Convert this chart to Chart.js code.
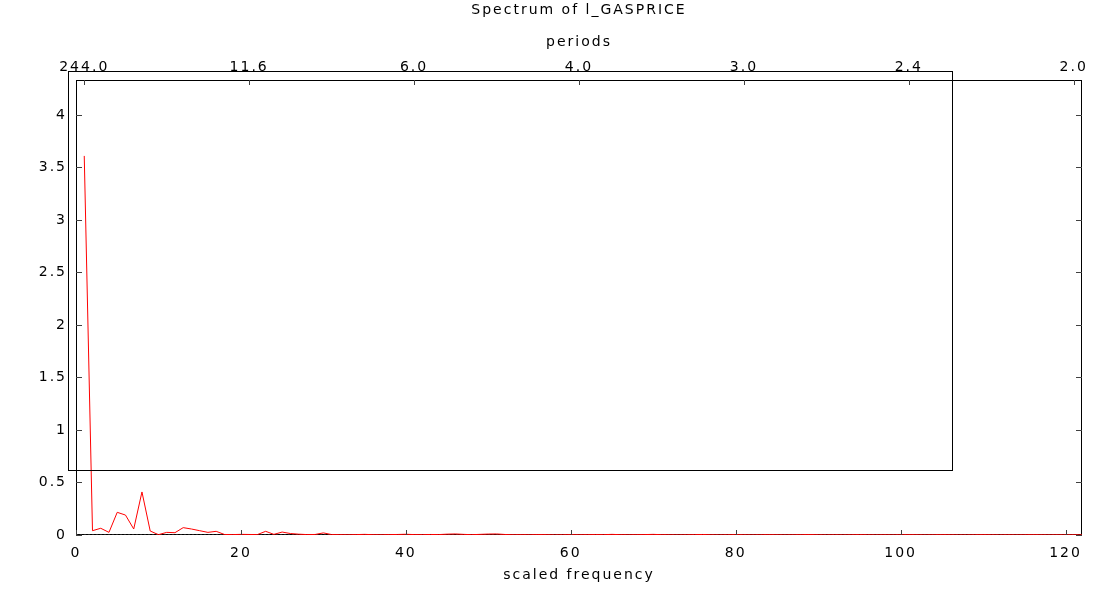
<!DOCTYPE html>
<html>
<head>
<meta charset="utf-8">
<title>Spectrum of l_GASPRICE</title>
<script src="https://cdn.jsdelivr.net/npm/chart.js@4.4.0/dist/chart.umd.min.js"></script>
<style>
  html, body { margin: 0; padding: 0; background: #fff; }
  #wrap { width: 1105px; height: 600px; }
</style>
</head>
<body>
<div id="wrap"><canvas id="spectrum" width="1105" height="600"></canvas></div>
<script>
// Periodogram of l_GASPRICE, 244 observations
const frequency = [
  1, 2, 3, 4, 5, 6, 7, 8, 9, 10, 11, 12, 13, 14, 15, 16, 17, 18, 19, 20,
  21, 22, 23, 24, 25, 26, 27, 28, 29, 30, 31, 32, 33, 34, 35, 36, 37, 38, 39, 40,
  41, 42, 43, 44, 45, 46, 47, 48, 49, 50, 51, 52, 53, 54, 55, 56, 57, 58, 59, 60,
  61, 62, 63, 64, 65, 66, 67, 68, 69, 70, 71, 72, 73, 74, 75, 76, 77, 78, 79, 80,
  81, 82, 83, 84, 85, 86, 87, 88, 89, 90, 91, 92, 93, 94, 95, 96, 97, 98, 99, 100,
  101, 102, 103, 104, 105, 106, 107, 108, 109, 110, 111, 112, 113, 114, 115, 116, 117, 118, 119, 120,
  121, 122
];

const density = [
  3.61, 0.041, 0.064, 0.025, 0.216, 0.19, 0.057, 0.41, 0.038, 0.003,
  0.025, 0.022, 0.07, 0.057, 0.041, 0.025, 0.035, 0.005, 0.004, 0.006,
  0.005, 0.004, 0.035, 0.006, 0.028, 0.014, 0.008, 0.004, 0.005, 0.02,
  0.004, 0.003, 0.002, 0.004, 0.006, 0.003, 0.002, 0.004, 0.005, 0.007,
  0.004, 0.003, 0.005, 0.004, 0.008, 0.010, 0.006, 0.003, 0.006, 0.009,
  0.010, 0.005, 0.002, 0.003, 0.002, 0.004, 0.003, 0.001, 0.002, 0.003,
  0.002, 0.003, 0.004, 0.003, 0.006, 0.003, 0.002, 0.003, 0.004, 0.006,
  0.003, 0.002, 0.001, 0.002, 0.003, 0.005, 0.002, 0.001, 0.002, 0.003,
  0.002, 0.001, 0.002, 0.003, 0.002, 0.001, 0.002, 0.003, 0.004, 0.002,
  0.001, 0.002, 0.001, 0.002, 0.003, 0.002, 0.001, 0.002, 0.001, 0.002,
  0.003, 0.002, 0.001, 0.002, 0.003, 0.002, 0.001, 0.001, 0.002, 0.003,
  0.002, 0.001, 0.002, 0.001, 0.002, 0.003, 0.002, 0.001, 0.002, 0.001,
  0.002, 0.001
];

// axis ticks
const freqTicks = [0, 20, 40, 60, 80, 100, 120];
const densityTicks = [0, 0.5, 1, 1.5, 2, 2.5, 3, 3.5, 4];
const periodTicks = [1, 21, 41, 61, 81, 101, 121];
const periodLabels = ['244.0', '11.6', '6.0', '4.0', '3.0', '2.4', '2.0'];

const FONT = { family: "'DejaVu Sans', Verdana, sans-serif", size: 14 };
const TEXT = '#000';

const spectrumPoints = frequency.map((f, i) => ({ x: f, y: density[i] }));
const zeroLine = [{ x: 0, y: 0 }, { x: 122, y: 0 }];

function setTicks(values) {
  return scale => { scale.ticks = values.map(v => ({ value: v })); };
}

// wide gnuplot-style lettering
const spacing = {
  id: 'spacing',
  beforeUpdate(chart) { chart.ctx.letterSpacing = '2px'; },
  beforeDraw(chart) { chart.ctx.letterSpacing = '2px'; }
};

// frame, inward tick marks and the empty key box
const frame = {
  id: 'frame',
  beforeDatasetsDraw(chart) {
    const { ctx, chartArea: a } = chart;
    ctx.save();
    ctx.strokeStyle = '#000';
    ctx.lineWidth = 1;
    ctx.strokeRect(Math.round(a.left) + 0.5, Math.round(a.top) + 0.5,
      Math.round(a.right - a.left) - 1, Math.round(a.bottom - a.top) - 1);
    ctx.restore();
  },
  afterDatasetsDraw(chart) {
    const { ctx, chartArea: a, scales } = chart;
    ctx.save();
    ctx.lineWidth = 1;

    ctx.strokeStyle = '#404040';
    ctx.beginPath();
    freqTicks.forEach(v => {
      const px = Math.round(scales.x.getPixelForValue(v)) + 0.5;
      ctx.moveTo(px, a.bottom); ctx.lineTo(px, a.bottom - 5);
    });
    periodTicks.forEach(v => {
      const px = Math.round(scales.x.getPixelForValue(v)) + 0.5;
      ctx.moveTo(px, a.top); ctx.lineTo(px, a.top + 5);
    });
    densityTicks.forEach(v => {
      const py = Math.round(scales.y.getPixelForValue(v)) + 0.5;
      ctx.moveTo(a.left, py); ctx.lineTo(a.left + 6, py);
      ctx.moveTo(a.right, py); ctx.lineTo(a.right - 6, py);
    });
    ctx.stroke();

    ctx.strokeStyle = '#000';
    ctx.strokeRect(Math.round(a.left) - 7.5, Math.round(a.top) - 8.5, 884, 399);
    ctx.restore();
  }
};

new Chart(document.getElementById('spectrum'), {
  type: 'line',
  data: {
    datasets: [
      {
        label: 'l_GASPRICE',
        data: spectrumPoints,
        borderColor: '#ff0000',
        borderWidth: 1,
        pointRadius: 0,
        tension: 0,
        order: 0
      },
      {
        label: 'zero',
        data: zeroLine,
        borderColor: '#444',
        borderWidth: 1,
        borderDash: [2, 2],
        pointRadius: 0,
        order: 1
      }
    ]
  },
  options: {
    responsive: false,
    animation: false,
    layout: { padding: { left: 0, right: 23, top: 0, bottom: 0 } },
    plugins: {
      legend: { display: false },
      tooltip: { enabled: false },
      title: {
        display: true,
        text: 'Spectrum of l_GASPRICE',
        fullSize: false,
        color: TEXT,
        font: { ...FONT, weight: 'normal' },
        padding: { top: 2, bottom: 4 }
      }
    },
    scales: {
      x: {
        type: 'linear',
        position: 'bottom',
        min: 0,
        max: 122,
        afterBuildTicks: setTicks(freqTicks),
        afterFit: s => { s.height = 65; },
        grid: { display: false, drawTicks: false },
        border: { display: false },
        ticks: { color: TEXT, font: FONT, padding: 10, maxRotation: 0, callback: v => String(v) },
        title: { display: true, text: 'scaled frequency', color: TEXT, font: FONT, padding: { top: 4, bottom: 16 } }
      },
      x2: {
        type: 'linear',
        position: 'top',
        min: 0,
        max: 122,
        afterBuildTicks: setTicks(periodTicks),
        afterFit: s => { s.height = 57.2; },
        grid: { display: false, drawTicks: false },
        border: { display: false },
        ticks: {
          color: TEXT, font: FONT, padding: 4, maxRotation: 0, autoSkip: false,
          callback: v => periodLabels[periodTicks.indexOf(v)]
        },
        title: { display: true, text: 'periods', color: TEXT, font: FONT, padding: { top: 11, bottom: 4 } }
      },
      y: {
        type: 'linear',
        position: 'left',
        min: 0,
        max: 4.333,
        afterBuildTicks: setTicks(densityTicks),
        afterFit: s => { s.width = 76; },
        grid: { display: false, drawTicks: false },
        border: { display: false },
        ticks: { color: TEXT, font: FONT, padding: 9, callback: v => String(v) }
      }
    }
  },
  plugins: [spacing, frame]
});
</script>
</body>
</html>
